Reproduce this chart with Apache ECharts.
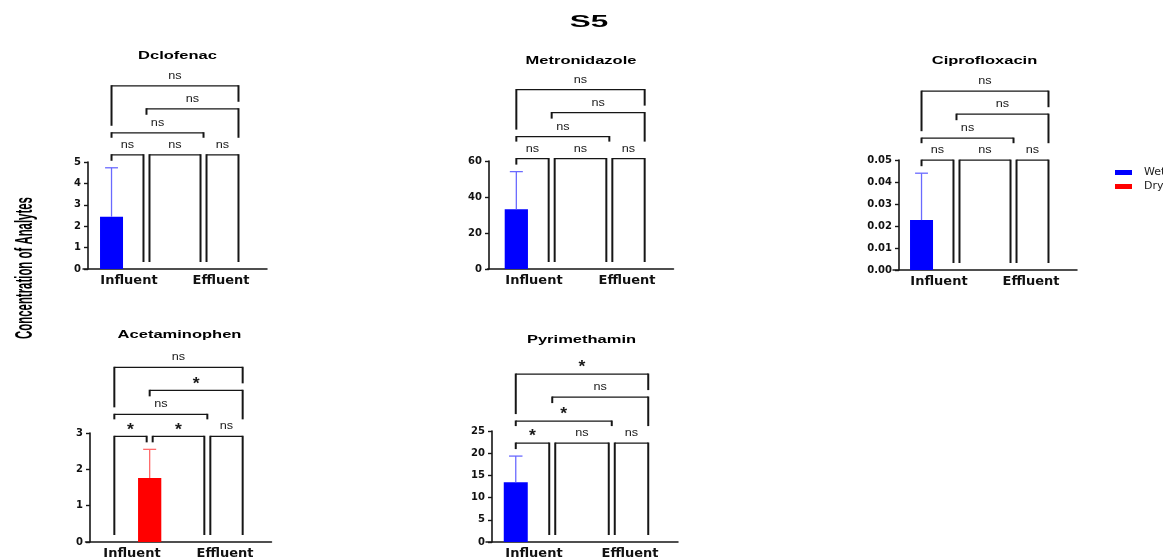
<!DOCTYPE html>
<html>
<head>
<meta charset="utf-8">
<script src="https://cdn.jsdelivr.net/npm/echarts@6/dist/echarts.min.js"></script>
<style>
  html, body { margin: 0; padding: 0; background: #ffffff; }
  #chart { width: 1163px; height: 560px; }
</style>
</head>
<body>
<div id="chart"></div>
<script>
// ---- data -------------------------------------------------------------
const categories = ['Influent', 'Effluent'];
const seasons = ['Wet', 'Dry'];

// mean concentration and upper error per site: [Influent, Effluent]
const dclofenacWet = [2.44, 0];
const dclofenacWetErr = [2.29, 0];
const dclofenacDry = [0, 0];
const dclofenacDryErr = [0, 0];
const dclofenacTicks = [0, 1, 2, 3, 4, 5];
const dclofenacSig = ['ns', 'ns', 'ns', 'ns', 'ns', 'ns'];

const metronidazoleWet = [33.2, 0];
const metronidazoleWetErr = [20.9, 0];
const metronidazoleDry = [0, 0];
const metronidazoleDryErr = [0, 0];
const metronidazoleTicks = [0, 20, 40, 60];
const metronidazoleSig = ['ns', 'ns', 'ns', 'ns', 'ns', 'ns'];

const ciprofloxacinWet = [0.0227, 0];
const ciprofloxacinWetErr = [0.0213, 0];
const ciprofloxacinDry = [0, 0];
const ciprofloxacinDryErr = [0, 0];
const ciprofloxacinTicks = [0, 0.01, 0.02, 0.03, 0.04, 0.05];
const ciprofloxacinSig = ['ns', 'ns', 'ns', 'ns', 'ns', 'ns'];

const acetaminophenWet = [0, 0];
const acetaminophenWetErr = [0, 0];
const acetaminophenDry = [1.76, 0];
const acetaminophenDryErr = [0.79, 0];
const acetaminophenTicks = [0, 1, 2, 3];
const acetaminophenSig = ['*', '*', 'ns', 'ns', '*', 'ns'];

const pyrimethaminWet = [13.45, 0];
const pyrimethaminWetErr = [5.9, 0];
const pyrimethaminDry = [0, 0];
const pyrimethaminDryErr = [0, 0];
const pyrimethaminTicks = [0, 5, 10, 15, 20, 25];
const pyrimethaminSig = ['*', 'ns', 'ns', '*', 'ns', '*'];

// slots: 0 Influent-Wet, 1 Influent-Dry, 2 Effluent-Wet, 3 Effluent-Dry
const comparisons = [[0, 1], [1, 2], [2, 3], [0, 2], [1, 3], [0, 3]];
const comparisonLevels = [0, 0, 0, 1, 2, 3];

// ---- layout -------------------------------------------------------------
const SLOT = 0.19;                 // bar centre offset from the category tick (band widths)
const LEVEL_GAP = [0, 22, 46, 69]; // bracket rows above the lowest row (px)
const INK = '#161616';

const panels = [
  { name: 'Dclofenac', wet: dclofenacWet, wetErr: dclofenacWetErr, dry: dclofenacDry, dryErr: dclofenacDryErr,
    ticks: dclofenacTicks, sig: dclofenacSig, decimals: 0,
    grid: { left: 83, top: 162, width: 184, height: 107 }, axisX: 88, title: [177.5, 56] },
  { name: 'Metronidazole', wet: metronidazoleWet, wetErr: metronidazoleWetErr, dry: metronidazoleDry, dryErr: metronidazoleDryErr,
    ticks: metronidazoleTicks, sig: metronidazoleSig, decimals: 0,
    grid: { left: 487.5, top: 161, width: 186, height: 108 }, axisX: 489, title: [581, 61] },
  { name: 'Ciprofloxacin', wet: ciprofloxacinWet, wetErr: ciprofloxacinWetErr, dry: ciprofloxacinDry, dryErr: ciprofloxacinDryErr,
    ticks: ciprofloxacinTicks, sig: ciprofloxacinSig, decimals: 2,
    grid: { left: 893, top: 160, width: 184, height: 110 }, axisX: 899, title: [984.5, 61] },
  { name: 'Acetaminophen', wet: acetaminophenWet, wetErr: acetaminophenWetErr, dry: acetaminophenDry, dryErr: acetaminophenDryErr,
    ticks: acetaminophenTicks, sig: acetaminophenSig, decimals: 0,
    grid: { left: 85.5, top: 433, width: 186, height: 110 }, axisX: 90, title: [179.5, 335] },
  { name: 'Pyrimethamin', wet: pyrimethaminWet, wetErr: pyrimethaminWetErr, dry: pyrimethaminDry, dryErr: pyrimethaminDryErr,
    ticks: pyrimethaminTicks, sig: pyrimethaminSig, decimals: 0,
    grid: { left: 486, top: 431, width: 192, height: 112 }, axisX: 492, title: [581.5, 340] }
];

function slotMean(p, s) { return (s % 2 ? p.dry : p.wet)[s >> 1]; }
function slotErr(p, s) { return (s % 2 ? p.dryErr : p.wetErr)[s >> 1]; }

const grids = [], xAxes = [], yAxes = [], series = [], graphics = [];

panels.forEach((p, i) => {
  grids.push(Object.assign({ containLabel: false }, p.grid));

  xAxes.push({
    type: 'category', gridIndex: i, data: categories,
    axisLine: { lineStyle: { color: INK, width: 1.5 } },
    axisTick: { alignWithLabel: true, length: 4, lineStyle: { color: INK, width: 1.5 } },
    axisLabel: { fontFamily: 'DejaVu Sans', fontWeight: 'bold', fontSize: 13, color: '#111', margin: 5 },
    splitLine: { show: false }
  });

  const t = p.ticks;
  yAxes.push({
    type: 'value', gridIndex: i,
    min: t[0], max: t[t.length - 1], interval: t[1] - t[0],
    offset: p.grid.left - p.axisX,
    axisLine: { show: true, lineStyle: { color: INK, width: 1.6 } },
    axisTick: { show: true, length: 4, lineStyle: { color: INK, width: 1.4 } },
    axisLabel: { fontFamily: 'DejaVu Sans', fontWeight: 'bold', fontSize: 10, color: '#111', margin: 7,
      formatter: v => v.toFixed(p.decimals) },
    splitLine: { show: false }
  });

  series.push({
    name: seasons[0], type: 'bar', xAxisIndex: i, yAxisIndex: i, data: p.wet,
    barWidth: '25%', barGap: '52%', itemStyle: { color: '#0000ff' }, silent: true, z: 2
  });
  series.push({
    name: seasons[1], type: 'bar', xAxisIndex: i, yAxisIndex: i, data: p.dry,
    barWidth: '25%', barGap: '52%', itemStyle: { color: '#ff0000' }, silent: true, z: 2
  });

  // upper error bars
  const errData = [];
  for (let s = 0; s < 4; s++) {
    if (slotErr(p, s) > 0) errData.push([s >> 1, slotMean(p, s), slotErr(p, s), s]);
  }
  series.push({
    name: p.name + ' error', type: 'custom', coordinateSystem: 'cartesian2d',
    xAxisIndex: i, yAxisIndex: i, encode: { x: 0, y: 1 }, data: errData, silent: true, z: 3,
    renderItem: (params, api) => {
      const cat = api.value(0), mean = api.value(1), err = api.value(2), s = api.value(3);
      const band = api.size([1, 0])[0];
      const x = api.coord([cat, 0])[0] + (s % 2 ? 1 : -1) * SLOT * band;
      const y1 = api.coord([cat, mean])[1];
      const y2 = api.coord([cat, mean + err])[1];
      const col = s % 2 ? '#ff6a6a' : '#6a6aff';
      const cap = band * 0.07;
      return {
        type: 'group', children: [
          { type: 'line', shape: { x1: x, y1: y1, x2: x, y2: y2 }, style: { stroke: col, lineWidth: 1.3 } },
          { type: 'line', shape: { x1: x - cap, y1: y2, x2: x + cap, y2: y2 }, style: { stroke: col, lineWidth: 1.3 } }
        ]
      };
    }
  });

  // significance brackets
  series.push({
    name: p.name + ' comparisons', type: 'custom', coordinateSystem: 'cartesian2d',
    xAxisIndex: i, yAxisIndex: i, encode: { x: 0, y: 1 },
    data: comparisons.map((c, k) => [0, 0, k]), silent: true, clip: false, z: 4,
    renderItem: (params, api) => {
      const k = params.dataIndex;
      const band = api.size([1, 0])[0];
      const slotX = s => api.coord([s >> 1, 0])[0] + (s % 2 ? 1 : -1) * SLOT * band;
      const slotTop = s => api.coord([s >> 1, slotMean(p, s) + slotErr(p, s)])[1];
      let highest = Infinity;
      for (let s = 0; s < 4; s++) highest = Math.min(highest, slotTop(s));
      const rowY = lvl => highest - 13 - LEVEL_GAP[lvl];

      const [a, b] = comparisons[k];
      const lvl = comparisonLevels[k];
      const y = rowY(lvl);

      const legBottom = s => {
        if (lvl === 0) return slotTop(s) - 7;
        let best = -1;
        comparisons.forEach((c, j) => {
          if (comparisonLevels[j] < lvl && c[0] <= s && s <= c[1] &&
              (best < 0 || comparisonLevels[j] > comparisonLevels[best])) best = j;
        });
        const bl = comparisonLevels[best];
        if (bl === 0) return rowY(0) - 17;
        const end = comparisons[best][0] === s || comparisons[best][1] === s;
        return rowY(bl) - (end ? 7 : 18);
      };

      let xa = slotX(a), xb = slotX(b);
      if (lvl === 0) {
        comparisons.forEach((c, j) => {
          if (comparisonLevels[j] !== 0 || j === k) return;
          if (c[1] === a) xa += 3;
          if (c[0] === b) xb -= 3;
        });
      }

      const label = p.sig[k];
      const star = label !== 'ns';
      return {
        type: 'group', children: [
          { type: 'line', shape: { x1: xa, y1: y, x2: xb, y2: y }, style: { stroke: INK, lineWidth: 1.3 } },
          { type: 'line', shape: { x1: xa, y1: y - 0.6, x2: xa, y2: legBottom(a) }, style: { stroke: INK, lineWidth: 2 } },
          { type: 'line', shape: { x1: xb, y1: y - 0.6, x2: xb, y2: legBottom(b) }, style: { stroke: INK, lineWidth: 2 } },
          { type: 'text', x: (xa + xb) / 2, y: star ? y - 6 : y - 10, scaleX: star ? 1.1 : 1.15,
            style: { text: label, fill: '#1a1a1a', align: 'center', verticalAlign: 'middle',
              font: star ? 'bold 16px "Liberation Sans"' : '11px "Liberation Sans"' } }
        ]
      };
    }
  });

  graphics.push({
    type: 'text', x: p.title[0], y: p.title[1], scaleX: 1.5,
    style: { text: p.name, fill: '#000', align: 'center', verticalAlign: 'middle',
      font: 'bold 11px "Liberation Sans"' }
  });
});

graphics.push({
  type: 'text', x: 589, y: 22, scaleX: 1.85,
  style: { text: 'S5', fill: '#000', align: 'center', verticalAlign: 'middle', font: 'bold 17px "Liberation Sans"' }
});
graphics.push({
  type: 'text', x: 25, y: 268, rotation: Math.PI / 2, scaleX: 0.76, scaleY: 1.6,
  style: { text: 'Concentration of Analytes', fill: '#000', align: 'center', verticalAlign: 'middle',
    font: 'bold 15px "Liberation Sans"' }
});

const chart = echarts.init(document.getElementById('chart'), null, { renderer: 'canvas' });
chart.setOption({
  backgroundColor: '#ffffff',
  animation: false,
  grid: grids,
  xAxis: xAxes,
  yAxis: yAxes,
  series: series,
  graphic: graphics,
  legend: {
    data: seasons, orient: 'vertical', left: 1110, top: 162,
    itemWidth: 17, itemHeight: 5, itemGap: 3, icon: 'rect',
    textStyle: { fontFamily: 'DejaVu Sans', fontSize: 11, color: '#222', padding: [0, 0, 0, 7] }
  }
});
</script>
</body>
</html>
